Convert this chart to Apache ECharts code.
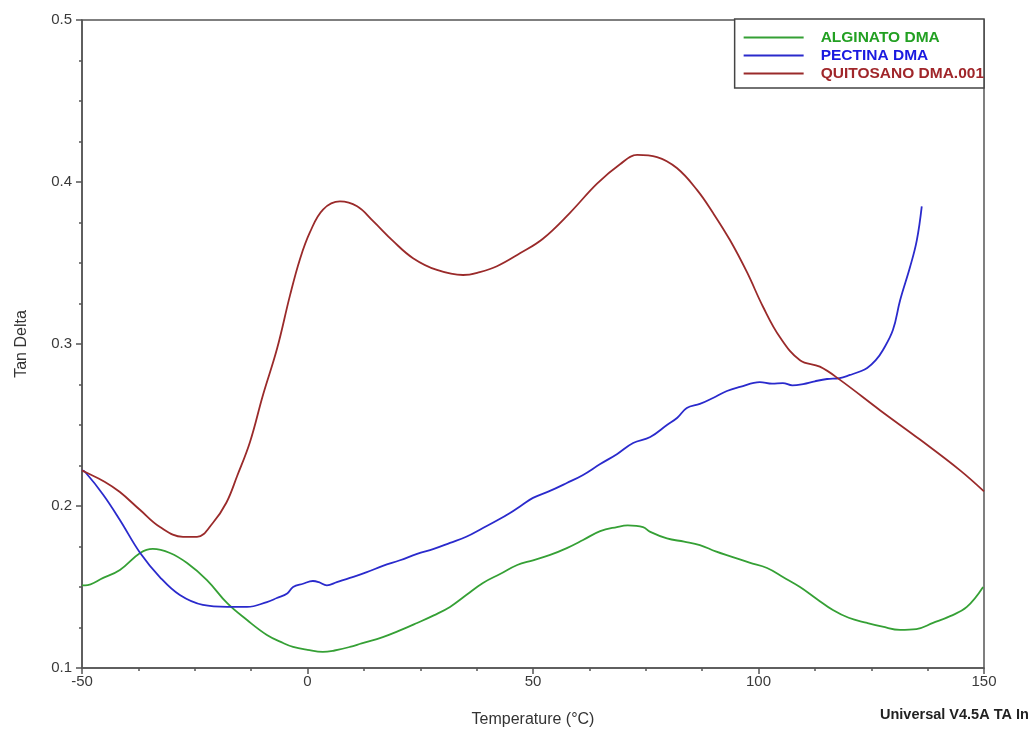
<!DOCTYPE html>
<html>
<head>
<meta charset="utf-8">
<script src="https://cdn.jsdelivr.net/npm/echarts@6/dist/echarts.min.js"></script>
<style>
  html, body { margin: 0; padding: 0; background: #fff; }
  #chart { width: 1029px; height: 734px; }
</style>
</head>
<body>
<div id="chart"></div>
<script>
// Tan delta vs temperature, [°C, tan δ] pairs per sample
const seriesNames = ['ALGINATO DMA', 'PECTINA DMA', 'QUITOSANO DMA.001'];

const alginato = [
  [-50,0.151],[-49.3,0.151],[-45.3,0.1556],[-41.6,0.1605],[-37.1,0.171],[-34.3,0.1735],
  [-30.5,0.171],[-26.7,0.1648],[-22.3,0.1543],[-17.8,0.140],[-13.4,0.1296],[-9,0.1204],
  [-5.4,0.1154],[-3.2,0.113],[0,0.1112],[3.4,0.1099],[6,0.1108],[9.4,0.113],[12,0.1152],
  [16.7,0.1191],[20.5,0.1232],[24.3,0.1278],[28,0.1325],[31.6,0.1377],[35.2,0.145],
  [38.9,0.1525],[42.7,0.158],[46.5,0.1636],[50,0.1665],[53.8,0.1698],[57.5,0.174],
  [61.1,0.179],[64.9,0.1845],[68.6,0.187],[71,0.188],[74.4,0.187],[76,0.184],[79.7,0.180],
  [83.5,0.178],[87,0.1759],[90.5,0.172],[94.3,0.1685],[98,0.165],[101.9,0.1617],
  [105.5,0.156],[109.2,0.150],[113,0.1425],[116.5,0.1358],[120,0.131],[124.1,0.1278],
  [127.5,0.1255],[131.4,0.1235],[135,0.124],[138.7,0.1278],[142.5,0.132],[146.2,0.1377],
  [149.8,0.150]
];

const pectina = [
  [-50,0.222],[-49.3,0.221],[-45.3,0.207],[-41.6,0.1914],[-37.1,0.171],[-32.7,0.156],
  [-28.3,0.145],[-23.2,0.1389],[-17.8,0.1377],[-13.4,0.1377],[-9,0.1407],[-6.8,0.1432],
  [-4.5,0.146],[-3.2,0.150],[-1,0.152],[1.2,0.1537],[2.5,0.153],[4.3,0.151],[6.5,0.153],
  [9.4,0.1556],[13,0.159],[16.7,0.163],[20.5,0.1665],[24.3,0.1704],[28,0.1735],
  [31.6,0.1772],[35.2,0.181],[38.9,0.1864],[42,0.191],[44.9,0.1957],[47.5,0.2005],
  [50,0.205],[53.5,0.209],[57.5,0.2142],[61,0.219],[64.9,0.2259],[68.6,0.232],
  [72.2,0.2389],[76,0.2426],[79.7,0.250],[82,0.2545],[84.1,0.2605],[87,0.263],
  [89.9,0.2667],[93,0.271],[95.9,0.2735],[100.3,0.2765],[103,0.2755],[105.4,0.2759],
  [107.5,0.2745],[109.9,0.2753],[112.5,0.277],[115.2,0.2784],[118,0.279],[120.3,0.2809],
  [122.5,0.283],[124.1,0.2852],[126,0.290],[127.6,0.2963],[129.8,0.3086],[131.4,0.327],
  [133.6,0.3475],[135.1,0.364],[136.2,0.385]
];

const quitosano = [
  [-50,0.222],[-49.3,0.221],[-45,0.215],[-41.6,0.2086],[-37.1,0.1975],[-32.7,0.187],
  [-27.6,0.181],[-24.5,0.181],[-21,0.1895],[-18,0.202],[-15.6,0.2185],[-12.75,0.2395],
  [-9.87,0.2685],[-6.76,0.297],[-3.88,0.330],[-1.66,0.3525],[0.55,0.369],[3.44,0.383],
  [7.2,0.388],[11,0.385],[14.5,0.376],[19,0.3635],[23.4,0.353],[28.7,0.3457],
  [34.5,0.3426],[38.2,0.3444],[42,0.348],[47.1,0.356],[52.2,0.365],[58.2,0.381],
  [64.2,0.399],[69.3,0.411],[73.1,0.4167],[77.5,0.4154],[81.9,0.4086],[86.4,0.395],
  [89.9,0.381],[93.7,0.364],[97.5,0.344],[101,0.323],[104.8,0.304],[109.2,0.290],
  [113.6,0.286],[118,0.278],[127,0.259],[135.8,0.241],[144.7,0.222],[150,0.209]
];

const lineColors = ['#35a035', '#2a2acc', '#9a2a2a'];
const textColors = ['#22a022', '#1a1ae0', '#a0262a'];

const chart = echarts.init(document.getElementById('chart'), null, { renderer: 'canvas' });

const font = 'Liberation Sans, Arial, sans-serif';

const axisCommon = {
  axisLine: { show: true, onZero: false, lineStyle: { color: '#555', width: 1.5 } },
  axisTick: { show: true, inside: false, length: 6, lineStyle: { color: '#555', width: 1.5 } },
  minorTick: { show: true, splitNumber: 4, length: 3, lineStyle: { color: '#555', width: 1.5 } },
  splitLine: { show: false },
  axisLabel: { color: '#3a3a3a', fontFamily: font, fontSize: 15 },
  nameTextStyle: { color: '#333', fontFamily: font, fontSize: 16 }
};

chart.setOption({
  backgroundColor: '#fff',
  animation: false,
  grid: {
    left: 82, right: 45, top: 20, bottom: 66,
    show: true, borderColor: '#555', borderWidth: 1.5, backgroundColor: 'transparent'
  },
  legend: {
    orient: 'vertical',
    right: 45, top: 19,
    padding: [10, 0, 6, 9],
    itemGap: 1,
    itemWidth: 60,
    itemHeight: 2,
    icon: 'rect',
    borderColor: '#444',
    borderWidth: 1.5,
    backgroundColor: '#fff',
    textStyle: { fontFamily: font, fontSize: 15.5, lineHeight: 17, fontWeight: 'bold', padding: [0, 0, 0, 12] },
    data: seriesNames.map((n, i) => ({ name: n, textStyle: { color: textColors[i] } }))
  },
  xAxis: Object.assign({}, axisCommon, {
    type: 'value',
    min: -50, max: 150, interval: 50,
    name: 'Temperature (°C)',
    nameLocation: 'middle',
    nameGap: 44,
    axisLabel: Object.assign({}, axisCommon.axisLabel, { margin: 6 })
  }),
  yAxis: Object.assign({}, axisCommon, {
    type: 'value',
    min: 0.1, max: 0.5, interval: 0.1,
    name: 'Tan Delta',
    nameLocation: 'middle',
    nameGap: 52,
    axisLabel: Object.assign({}, axisCommon.axisLabel, { margin: 10, formatter: v => v.toFixed(1) })
  }),
  graphic: [{
    type: 'text',
    left: 880, top: 707,
    style: {
      text: 'Universal V4.5A TA Instruments',
      fill: '#222',
      font: 'bold 14.5px "Liberation Sans", Arial, sans-serif'
    }
  }],
  series: [alginato, pectina, quitosano].map((d, i) => ({
    name: seriesNames[i],
    type: 'line',
    data: d,
    smooth: 0.4,
    showSymbol: false,
    lineStyle: { color: lineColors[i], width: 1.8 },
    itemStyle: { color: lineColors[i] },
    z: 3 + i
  }))
});
</script>
</body>
</html>
